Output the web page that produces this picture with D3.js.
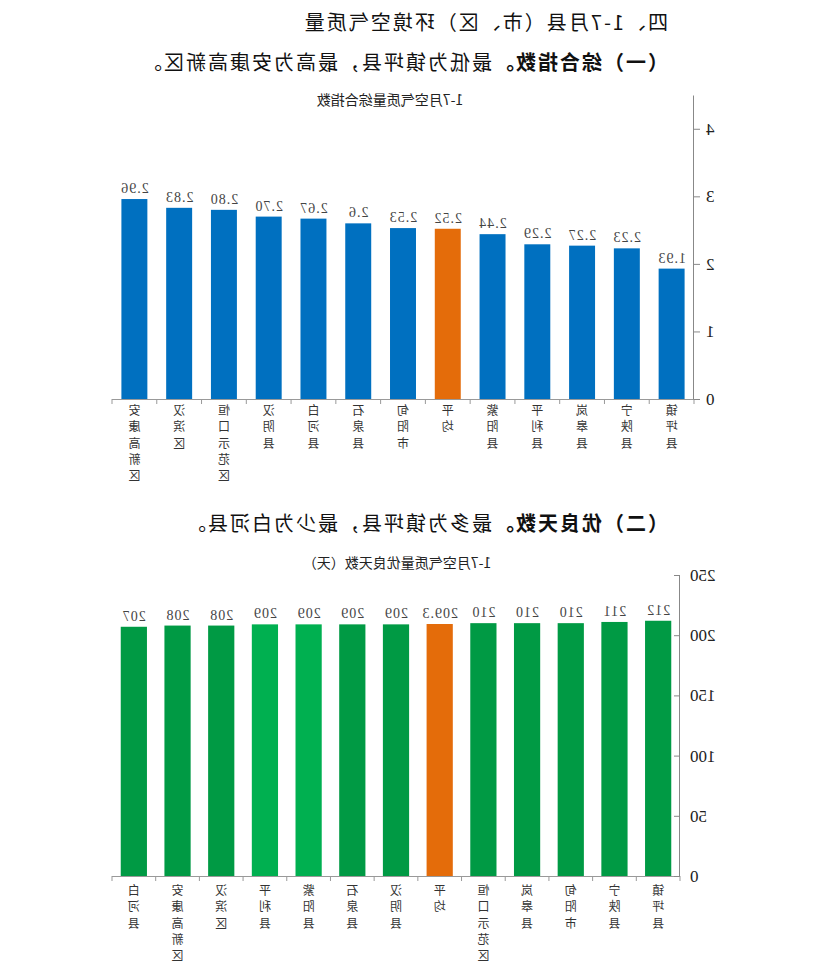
<!DOCTYPE html>
<html>
<head>
<meta charset="utf-8">
<script src="https://cdn.jsdelivr.net/npm/d3@7"></script>
<style>
  body { margin: 0; background: #fff; }
  svg { display: block; }
  .head { font-family: "Noto Sans CJK SC", sans-serif; font-size: 20px; fill: #111; }
  .ctitle { font-family: "Noto Sans CJK SC", sans-serif; font-size: 14px; fill: #222; }
  .cat { font-family: "Noto Sans CJK SC", sans-serif; font-size: 12px; fill: #333; }
  .val { font-family: "Liberation Serif", serif; font-size: 14px; fill: #444; letter-spacing: 1px; }
  .yaxis text { font-family: "Liberation Serif", serif; font-size: 17px; fill: #222; }
  .yaxis path, .yaxis line { stroke: #888; }
</style>
</head>
<body>
<svg id="chart" width="827" height="970"></svg>
<script>
"use strict";

// 综合指数 (从左到右)
const indexCats = ['镇坪县', '宁陕县', '岚皋县', '平利县', '紫阳县', '平均', '旬阳市', '石泉县', '白河县', '汉阴县', '恒口示范区', '汉滨区', '安康高新区'];
const indexVals = [1.93, 2.23, 2.27, 2.29, 2.44, 2.52, 2.53, 2.6, 2.67, 2.70, 2.80, 2.83, 2.96];
const indexLabels = ['1.93', '2.23', '2.27', '2.29', '2.44', '2.52', '2.53', '2.6', '2.67', '2.70', '2.80', '2.83', '2.96'];
const indexTicks = [0, 1, 2, 3, 4];

// 优良天数 (从左到右)
const dayCats = ['镇坪县', '宁陕县', '旬阳市', '岚皋县', '恒口示范区', '平均', '汉阴县', '石泉县', '紫阳县', '平利县', '汉滨区', '安康高新区', '白河县'];
const dayVals = [212, 211, 210, 210, 210, 209.3, 209, 209, 209, 209, 208, 208, 207];
const dayLabels = ['212', '211', '210', '210', '210', '209.3', '209', '209', '209', '209', '208', '208', '207'];
const dayTicks = [0, 50, 100, 150, 200, 250];

const svg = d3.select('#chart');
// the reference page is mirrored left-right
const root = svg.append('g').attr('transform', 'translate(827,0) scale(-1,1)');

const heading = (y, bold, rest, spacing) => {
    const t = root.append('text').attr('class', 'head')
        .attr('x', 159).attr('y', y).style('letter-spacing', spacing + 'px');
    t.append('tspan').style('font-weight', 'bold').text(bold);
    if (rest) t.append('tspan').text(rest);
};

heading(30, '', '四、1-7月县（市、区）环境空气质量', 2);
heading(70, '（一）综合指数。', '最低为镇坪县，最高为安康高新区。', 2);
heading(531, '（二）优良天数。', '最多为镇坪县，最少为白河县。', 2);

const drawChart = (cfg) => {
    const g = root.append('g');
    const x = d3.scaleBand().domain(cfg.cats).range(cfg.xRange)
        .paddingInner(cfg.pad).paddingOuter(cfg.pad / 2);
    const y = d3.scaleLinear().domain(cfg.yDomain).range(cfg.yRange);

    g.append('text').attr('class', 'ctitle')
        .attr('x', cfg.titleX).attr('y', cfg.titleY)
        .attr('text-anchor', 'middle').text(cfg.title);

    g.selectAll('.bar')
        .data(cfg.cats)
        .enter()
        .append('rect')
        .attr('x', d => x(d))
        .attr('width', x.bandwidth())
        .attr('y', (d, i) => y(cfg.vals[i]))
        .attr('height', (d, i) => y(0) - y(cfg.vals[i]))
        .attr('fill', cfg.color);

    g.selectAll('.val')
        .data(cfg.cats)
        .enter()
        .append('text')
        .attr('class', 'val')
        .attr('x', d => x(d) + x.bandwidth() / 2)
        .attr('y', (d, i) => y(cfg.vals[i]) - 6)
        .attr('text-anchor', 'middle')
        .text((d, i) => cfg.labels[i]);

    // category axis with ticks on band boundaries
    const base = y(0);
    const [x0, x1] = x.range();
    g.append('line')
        .attr('x1', x0).attr('x2', x1).attr('y1', base + 0.5).attr('y2', base + 0.5)
        .attr('stroke', '#999');
    const edges = cfg.cats.map(d => x(d) - x.step() * cfg.pad / 2).concat([x1]);
    g.selectAll('.ctick')
        .data(edges)
        .enter()
        .append('line')
        .attr('x1', d => d).attr('x2', d => d)
        .attr('y1', base).attr('y2', base + 5)
        .attr('stroke', '#999');

    const cat = g.selectAll('.cat')
        .data(cfg.cats)
        .enter()
        .append('text')
        .attr('class', 'cat')
        .attr('text-anchor', 'middle');
    cat.selectAll('tspan')
        .data(d => Array.from(d).map(ch => ({ ch, cx: x(d) + x.bandwidth() / 2 })))
        .enter()
        .append('tspan')
        .attr('x', d => d.cx)
        .attr('y', (d, i) => cfg.catY + i * 16.3)
        .text(d => d.ch);

    const axis = d3.axisLeft(y).tickValues(cfg.ticks).tickFormat(d3.format('d'))
        .tickSizeInner(cfg.tickIn).tickSizeOuter(0).tickPadding(cfg.tickPad);
    g.append('g')
        .attr('class', 'yaxis')
        .attr('transform', `translate(${x0},0)`)
        .call(axis);
};

drawChart({
    cats: indexCats, vals: indexVals, labels: indexLabels, ticks: indexTicks,
    xRange: [133, 715], pad: 0.42,
    yDomain: [0, 4.5], yRange: [399, 95],
    color: d => d === '平均' ? '#E46C0A' : '#0070C0',
    title: '1-7月空气质量综合指数', titleX: 437, titleY: 105,
    catY: 415, tickIn: 6, tickPad: 6
});

const lightGreen = ['平利县', '紫阳县'];
drawChart({
    cats: dayCats, vals: dayVals, labels: dayLabels, ticks: dayTicks,
    xRange: [147, 715], pad: 0.4,
    yDomain: [0, 250], yRange: [876, 575],
    color: d => d === '平均' ? '#E46C0A' : (lightGreen.includes(d) ? '#00B050' : '#009A44'),
    title: '1-7月空气质量优良天数（天）', titleX: 430, titleY: 568,
    catY: 895, tickIn: -6, tickPad: 10
});
</script>
</body>
</html>
